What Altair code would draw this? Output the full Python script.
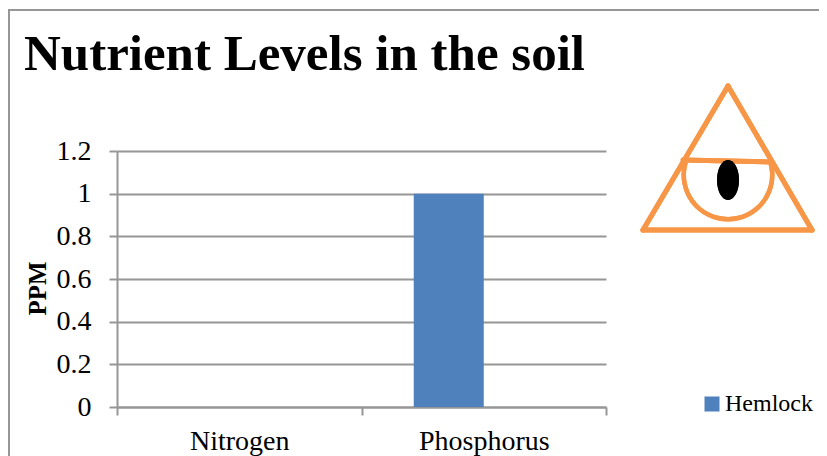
import altair as alt
import pandas as pd

nutrients = ["Nitrogen", "Phosphorus"]
series_names = ["Hemlock", "(none)"]
hemlock_ppm = [0, 1]
y_ticks = [0, 0.2, 0.4, 0.6, 0.8, 1, 1.2]
title_text = "Nutrient Levels in the soil"

GRAY = "#969696"
ORANGE = "#f79646"
BLUE = "#4f81bd"
SERIF = "Liberation Serif"

data = pd.DataFrame({"Nutrient": nutrients, "PPM": hemlock_ppm, "Series": series_names[0]})

bars = alt.Chart(data).mark_bar(clip=False).encode(
    x=alt.X("Nutrient:N", sort=nutrients, title=None,
            scale=alt.Scale(paddingInner=0, paddingOuter=0),
            axis=alt.Axis(labelAngle=0, labelFont=SERIF, labelFontSize=28, labelColor="#000000",
                          labelPadding=12, grid=False, tickBand="extent", tickSize=8,
                          tickColor=GRAY, tickWidth=2, domainColor=GRAY, domainWidth=2)),
    xOffset=alt.XOffset("Series:N", scale=alt.Scale(domain=series_names, paddingInner=0, paddingOuter=0.746)),
    y=alt.Y("PPM:Q", scale=alt.Scale(domain=[0, 1.2], nice=False),
            axis=alt.Axis(values=y_ticks, format=".1~f", grid=True, gridColor=GRAY, gridWidth=2,
                          tickColor=GRAY, tickWidth=2, tickSize=8, domainColor=GRAY, domainWidth=2,
                          labelFont=SERIF, labelFontSize=28, labelColor="#000000", labelPadding=18,
                          title="PPM", titleFont=SERIF, titleFontSize=25, titleFontWeight="bold",
                          titleColor="#000000", titleX=-67, titleY=137)),
    color=alt.Color("Series:N", scale=alt.Scale(domain=series_names[:1], range=[BLUE]),
                    legend=alt.Legend(title=None, orient="none", legendX=583, legendY=241,
                                      symbolType="square", symbolSize=225, symbolStrokeWidth=0,
                                      labelFont=SERIF, labelFontSize=24, labelColor="#000000",
                                      labelOffset=1)),
)


def seg(x, y, x2, y2, color=ORANGE, width=5, cap="round"):
    return alt.Chart(data).mark_rule(color=color, strokeWidth=width, strokeCap=cap, clip=False).encode(
        x=alt.value(x), y=alt.value(y), x2=alt.value(x2), y2=alt.value(y2))


border = seg(-109, -141, 702, -141, GRAY, 2, "butt") + seg(-108, -141, -108, 305, GRAY, 2, "butt")

triangle = (seg(611, -65, 526, 79) + seg(526, 79, 695, 79) + seg(695, 79, 611, -65)
            + seg(566, 9, 654, 11))

arc = alt.Chart(data).mark_arc(color=ORANGE, innerRadius=42, outerRadius=46.5, theta=1.27, theta2=5.01,
                               clip=False).encode(x=alt.value(611), y=alt.value(24))

eye = alt.Chart(data).mark_point(
    shape="M -0.55 0 A 0.55 1 0 1 1 0.55 0 A 0.55 1 0 1 1 -0.55 0 Z",
    size=1600, filled=True, color="#000000", opacity=1, clip=False,
).encode(x=alt.value(611), y=alt.value(29))

title_mark = alt.Chart(alt.Data(values=[{"t": title_text}])).mark_text(
    align="left", baseline="alphabetic", font=SERIF, fontSize=51, fontWeight="bold",
    color="#000000", clip=False,
).encode(x=alt.value(-93), y=alt.value(-81), text="t:N")

chart = alt.layer(bars, border, title_mark, arc, triangle, eye).properties(
    width=489, height=256,
    background="#ffffff",
    autosize=alt.AutoSizeParams(type="none"),
    padding={"left": 109, "top": 143, "right": 213, "bottom": 49},
).configure_view(stroke=None)

chart.save("out.html", embed_options={"renderer": "svg", "actions": False})
